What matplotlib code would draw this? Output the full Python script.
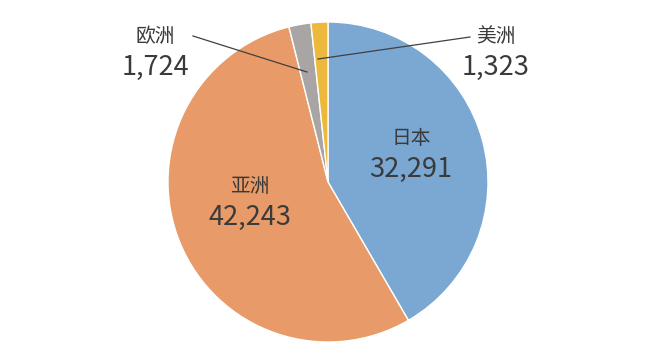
import matplotlib
matplotlib.use("Agg")
import matplotlib.pyplot as plt

categories = ["日本", "亚洲", "欧洲", "美洲"]
values = [32291, 42243, 1724, 1323]
colors = ["#7AA8D3", "#E89B68", "#A8A5A4", "#ECB93C"]

plt.rcParams['font.family'] = ['Noto Sans CJK SC', 'DejaVu Sans']

W, H = 660, 355
fig = plt.figure(figsize=(6.6, 3.55), dpi=100)
ax = fig.add_axes([0, 0, 1, 1])

ax.pie(values, colors=colors, startangle=90, counterclock=False,
       center=(328, H - 182), radius=160,
       wedgeprops=dict(edgecolor='white', linewidth=1.0), frame=True)
ax.set_xlim(0, W)
ax.set_ylim(0, H)
ax.set_aspect('equal')
ax.axis('off')

txt = "#3A3A3A"
def lab(x, y, name, val):
    ax.text(x, H - y, name, ha='center', va='center', fontsize=14.2, color=txt)
    ax.text(x, H - y - 31, f"{val:,}", ha='center', va='center', fontsize=19.5, color=txt)

lab(411, 138, categories[0], values[0])
lab(250, 186, categories[1], values[1])
lab(155, 36, categories[2], values[2])
lab(496, 36, categories[3], values[3])

ax.plot([193, 307], [H - 36, H - 72], color="#404040", lw=0.9)
ax.plot([470, 318], [H - 37, H - 59], color="#404040", lw=0.9)

fig.savefig("out.png", dpi=100)
